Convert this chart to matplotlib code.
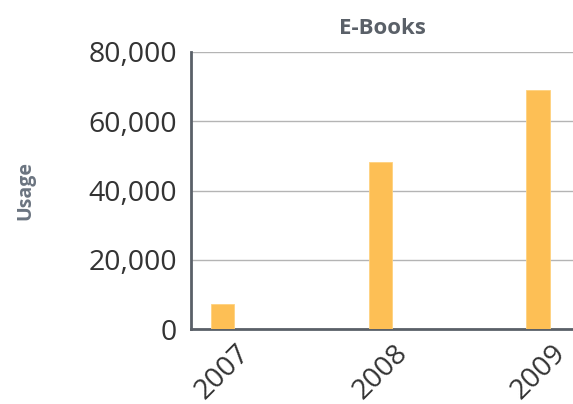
import matplotlib
matplotlib.use("Agg")
import matplotlib.pyplot as plt
from matplotlib.ticker import FuncFormatter

# data
years = ["2007", "2008", "2009"]
usage = [7100, 48200, 69000]
y_ticks = [0, 20000, 40000, 60000, 80000]

plt.rcParams['font.family'] = ['Open Sans', 'DejaVu Sans']

fig = plt.figure(figsize=(5.73, 4.04), dpi=100)
ax = fig.add_axes([0.3333, 0.1856, 0.6667, 0.6857])

x = list(range(len(years)))
ax.bar(x, usage, width=0.15, color='#FDBF55', edgecolor='#FFD27E', linewidth=0.6, zorder=3)

ax.set_xlim(-0.2, 2.22)
ax.set_ylim(0, 80000)
ax.set_yticks(y_ticks)
ax.yaxis.set_major_formatter(FuncFormatter(lambda v, p: f"{int(v):,}"))
ax.set_xticks(x)
ax.set_xticklabels(years, rotation=45, ha='center')

ax.grid(axis='y', color='#b4b4b4', linewidth=1.0, zorder=0)
ax.tick_params(axis='both', length=0, labelsize=20.5, colors='#333333', labelcolor='#333333')
ax.tick_params(axis='x', pad=7)
ax.tick_params(axis='y', pad=10)

for s in ['top', 'right']:
    ax.spines[s].set_visible(False)
for s in ['left', 'bottom']:
    ax.spines[s].set_color('#5a6068')
    ax.spines[s].set_linewidth(2)

ax.set_title("E-Books", fontsize=16, fontweight='bold', color='#5a6068', pad=13)
ax.set_ylabel("Usage", fontsize=14, fontweight='bold', color='#6b7480', labelpad=38)

fig.savefig("out.png", dpi=100)
